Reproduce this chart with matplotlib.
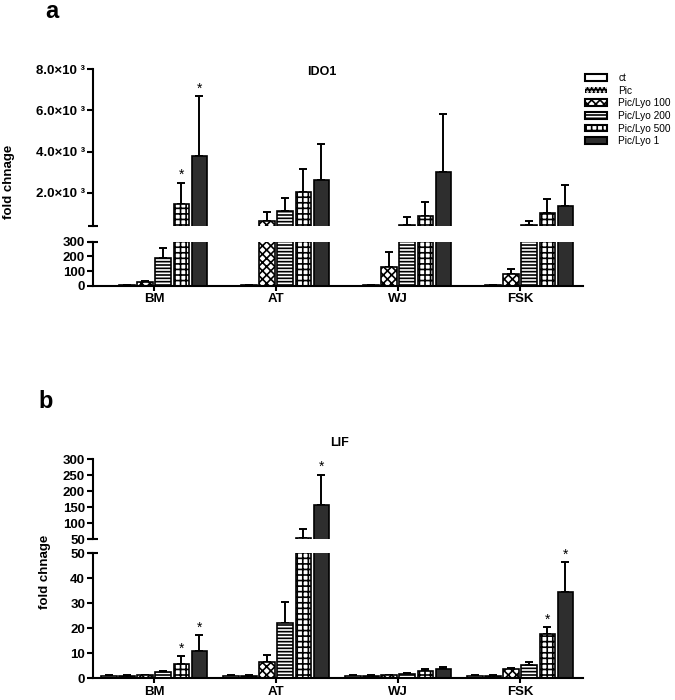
import matplotlib
matplotlib.use('Agg')
import matplotlib.pyplot as plt
import numpy as np
from matplotlib.patches import Patch

plt.rcParams['font.family'] = ['Liberation Sans', 'DejaVu Sans']
plt.rcParams['hatch.linewidth'] = 1.2

# ---------------- data ----------------
categories = ['BM', 'AT', 'WJ', 'FSK']
series_names = ['ct', 'Pic', 'Pic/Lyo 100', 'Pic/Lyo 200', 'Pic/Lyo 500', 'Pic/Lyo 1']

# IDO1 fold change (rows: series, cols: categories)
ido1_means = [
    [1, 1, 1, 1],
    [4, 3, 5, 6],
    [25, 634, 127, 80],
    [187, 1120, 420, 410],
    [1460, 2050, 845, 1010],
    [3760, 2630, 2990, 1370],
]
ido1_errs = [
    [0, 0, 0, 0],
    [1, 1, 1, 1],
    [5, 440, 102, 33],
    [73, 635, 380, 190],
    [1030, 1120, 700, 700],
    [2920, 1760, 2850, 1020],
]
ido1_stars = [(0, 4), (0, 5)]

# LIF fold change
lif_means = [
    [1.0, 1.0, 1.0, 1.0],
    [1.1, 1.0, 1.0, 1.0],
    [1.2, 6.5, 1.2, 3.6],
    [2.4, 22.0, 1.8, 5.5],
    [5.6, 54.0, 2.8, 17.8],
    [11.1, 156.0, 3.6, 34.4],
]
lif_errs = [
    [0.2, 0.2, 0.2, 0.2],
    [0.2, 0.2, 0.2, 0.2],
    [0.3, 3.0, 0.2, 0.5],
    [0.5, 8.5, 0.3, 1.0],
    [3.3, 26.0, 1.0, 2.7],
    [6.1, 96.0, 0.9, 12.0],
]
lif_stars = [(0, 4), (0, 5), (1, 5), (3, 4), (3, 5)]

ido1_upper_ticks = [2000, 4000, 6000, 8000]
ido1_upper_labels = ['2.0\u00d710 \u00b3', '4.0\u00d710 \u00b3', '6.0\u00d710 \u00b3', '8.0\u00d710 \u00b3']

# ---------------- styles ----------------
styles = [
    dict(face='white', hatch=None, white=False),
    dict(face='black', hatch='....', white=True),
    dict(face='white', hatch='xxxx', white=False),
    dict(face='white', hatch='-----', white=False),
    dict(face='white', hatch='+++', white=False),
    dict(face='#2e2e2e', hatch=None, white=False),
]
width = 0.125
step = 0.148
W, H = 675, 700
fig = plt.figure(figsize=(W / 100, H / 100), dpi=100)

def ax_px(x0, x1, ytop, ybot):
    return fig.add_axes([x0 / W, 1 - ybot / H, (x1 - x0) / W, (ybot - ytop) / H])

x0, x1 = 92.7, 583
XLIM = (-0.503, 3.516)

def draw(ax, means, errs, ylo, yhi):
    for i, (m, e) in enumerate(zip(means, errs)):
        m = np.asarray(m, float)
        e = np.asarray(e, float)
        x = np.arange(len(categories)) + (i - 2.5) * step
        st = styles[i]
        if st['white']:
            ax.bar(x, m, width, color=st['face'], edgecolor='white', hatch=st['hatch'],
                   linewidth=0, zorder=2)
            ax.bar(x, m, width, fill=False, edgecolor='black', linewidth=1.2, zorder=3)
        else:
            ax.bar(x, m, width, facecolor=st['face'], edgecolor='black', hatch=st['hatch'],
                   linewidth=1.2, zorder=2)
        keep = (m + e > ylo) & (m < yhi)
        if keep.any():
            ax.errorbar(x[keep], m[keep], yerr=[np.zeros(keep.sum()), e[keep]], fmt='none',
                        ecolor='black', elinewidth=1.4, capsize=3, capthick=1.4, zorder=1)

def style_ax(ax, lower):
    ax.set_xlim(*XLIM)
    for s in ['top', 'right']:
        ax.spines[s].set_visible(False)
    ax.spines['left'].set_linewidth(1.5)
    ax.tick_params(axis='y', direction='out', length=4, width=1.5, labelsize=9.5, pad=1.5)
    for lab in ax.get_yticklabels():
        lab.set_fontweight('bold')
    if lower:
        ax.spines['bottom'].set_linewidth(1.5)
        ax.set_xticks(range(len(categories)))
        ax.set_xticklabels(categories, fontsize=9.5, fontweight='bold')
        ax.tick_params(axis='x', direction='out', length=3.5, width=1.5, pad=2)
    else:
        ax.spines['bottom'].set_visible(False)
        ax.set_xticks([])

def break_mark(ax, y):
    ax.plot([0], [y], marker='_', ms=7, mew=1.5, color='black',
            transform=ax.transAxes, clip_on=False, zorder=5)

def stars(ax_lo, ax_hi, means, errs, marks, lo_max):
    for c, s in marks:
        top = means[s][c] + errs[s][c]
        x = c + (s - 2.5) * step
        ax = ax_lo if top <= lo_max else ax_hi
        ax.annotate('*', (x, top), xytext=(0, 0.5), textcoords='offset points',
                    ha='center', va='bottom', fontsize=10, annotation_clip=False)

# ---------------- panel a ----------------
a_hi = ax_px(x0, x1, 69.3, 226)
a_lo = ax_px(x0, x1, 241.7, 285.7)
draw(a_hi, ido1_means, ido1_errs, 380, 8000)
draw(a_lo, ido1_means, ido1_errs, 0, 300)
a_hi.set_ylim(380, 8000)
a_hi.set_yticks(ido1_upper_ticks)
a_hi.set_yticklabels(ido1_upper_labels)
a_lo.set_ylim(0, 300)
a_lo.set_yticks([0, 100, 200, 300])
style_ax(a_hi, False)
style_ax(a_lo, True)
break_mark(a_hi, 0)
break_mark(a_lo, 1)
stars(a_lo, a_hi, ido1_means, ido1_errs, ido1_stars, 300)

# ---------------- panel b ----------------
b_hi = ax_px(x0, x1, 459.3, 539)
b_lo = ax_px(x0, x1, 553.3, 678.3)
draw(b_hi, lif_means, lif_errs, 50, 300)
draw(b_lo, lif_means, lif_errs, 0, 50)
b_hi.set_ylim(50, 300)
b_hi.set_yticks([50, 100, 150, 200, 250, 300])
b_lo.set_ylim(0, 50)
b_lo.set_yticks([0, 10, 20, 30, 40, 50])
style_ax(b_hi, False)
style_ax(b_lo, True)
break_mark(b_hi, 0)
break_mark(b_lo, 1)
stars(b_lo, b_hi, lif_means, lif_errs, lif_stars, 50)

# ---------------- texts ----------------
fig.text(52 / W, 1 - 12 / H, 'a', fontsize=17, fontweight='bold', ha='center', va='center')
fig.text(46 / W, 1 - 401 / H, 'b', fontsize=17, fontweight='bold', ha='center', va='center')
fig.text(322 / W, 1 - 72 / H, 'IDO1', fontsize=9, fontweight='bold', ha='center', va='center')
fig.text(340 / W, 1 - 443 / H, 'LIF', fontsize=9, fontweight='bold', ha='center', va='center')
fig.text(9 / W, 1 - 182 / H, 'fold chnage', fontsize=9.5, fontweight='bold', rotation=90,
         ha='center', va='center')
fig.text(45 / W, 1 - 572 / H, 'fold chnage', fontsize=9.5, fontweight='bold', rotation=90,
         ha='center', va='center')

# ---------------- legend ----------------
handles = []
for st in styles:
    if st['white']:
        handles.append(Patch(facecolor=st['face'], edgecolor='white', hatch=st['hatch'], linewidth=0))
    else:
        handles.append(Patch(facecolor=st['face'], edgecolor='black', hatch=st['hatch'], linewidth=1.5))
fig.legend(handles, series_names, loc='upper left', bbox_to_anchor=(585 / W, 1 - 73 / H),
           frameon=False, fontsize=7.3,
           handlelength=2.2, handleheight=0.65,
           labelspacing=0.26, handletextpad=1.1, borderaxespad=0, borderpad=0)

fig.savefig('out.png', dpi=100)
